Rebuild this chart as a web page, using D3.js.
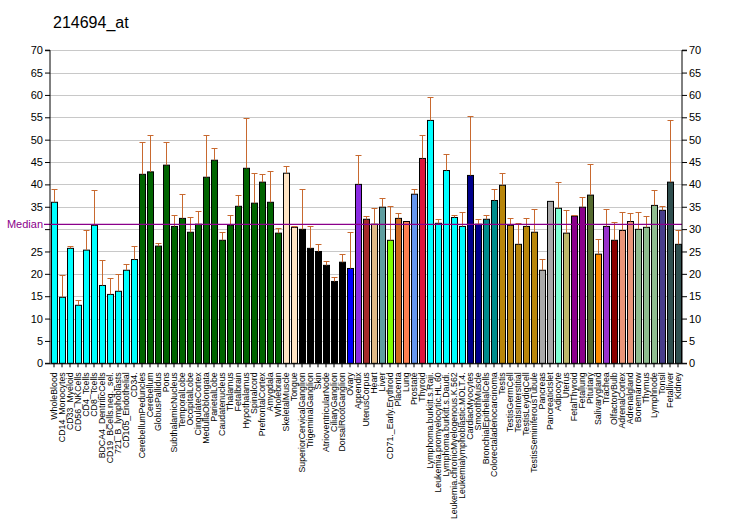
<!DOCTYPE html>
<html>
<head>
<meta charset="utf-8">
<script src="https://cdn.jsdelivr.net/npm/d3@7"></script>
<style>
  html, body { margin: 0; padding: 0; background: #fff; }
  svg { display: block; }
  text { font-family: Arial, "Liberation Sans", sans-serif; }
</style>
</head>
<body>
<svg id="chart" width="732" height="530"></svg>
<script>
const title = "214694_at";
const categories = ["WholeBlood","CD14_Monocytes","CD33_Myeloid","CD56_NKCells","CD4_Tcells","CD8_Tcells","BDCA4_DentriticCells","CD19_BCells.neg._sel.","721_B_lymphoblasts","CD105_Endothelial","CD34.","CerebellumPeduncles","Cerebellum","GlobusPallidus","Pons","SubthalamicNucleus","TemporalLobe","OccipitalLobe","CingulateCortex","MedullaOblongata","ParietalLobe","Caudatenucleus","Thalamus","Fetalbrain","Hypothalamus","Spinalcord","PrefrontalCortex","Amygdala","Wholebrain","SkeletalMuscle","Tongue","SuperiorCervicalGanglion","TrigeminalGanglion","Skin","AtrioventricularNode","CiliaryGanglion","DorsalRootGanglion","Ovary","Appendix","UterusCorpus","Heart","Liver","CD71._Early.Erythroid","Placenta","Lung","Prostate","Thyroid","Lymphoma.burkitt.s.Raji.","Leukemia.promyelocytic.HL.60","Lymphoma.burkitt.s.Daudi.","Leukemia.chronicMyelogenous.K.562","Leukemialymphoblastic.MOLT.4.","CardiacMyocytes","SmoothMuscle","BronchialEpithelialCells","Colorectaladenocarcinoma","Testis","TestisGermCell","TestisInterstitial","TestisLeydigCell","TestisSeminiferousTubule","Pancreas","PancreaticIslet","Adipocyte","Uterus","FetalThyroid","Fetallung","Pituitary","Salivarygland","Trachea","OlfactoryBulb","AdrenalCortex","Adrenalgland","Bonemarrow","Thymus","Lymphnode","Tonsil","Fetalliver","Kidney"];
const values = [36.0,14.75,25.7,12.97,25.3,30.85,17.4,15.4,16.1,20.8,23.2,42.25,42.8,26.2,44.3,30.6,32.4,29.3,31.1,41.6,45.4,27.5,30.85,35.1,43.6,35.8,40.5,36.0,29.1,42.5,30.4,29.95,25.7,25.0,21.9,18.3,22.6,21.2,40.0,32.2,31.1,34.9,27.5,32.4,31.7,37.8,45.8,54.3,31.3,43.1,32.6,30.6,42.0,31.1,32.2,36.4,39.8,30.85,26.6,30.6,29.3,20.8,36.2,34.65,29.1,32.9,34.9,37.6,24.4,30.6,27.5,29.7,31.7,29.95,30.4,35.3,34.2,40.5,26.6];
const errorTops = [38.9,19.7,26.2,14.1,29.7,38.7,23.2,19.0,19.9,22.1,26.2,49.4,51.0,26.8,49.4,33.1,37.8,32.6,34.0,51.0,48.2,29.3,33.1,37.6,54.8,42.5,42.25,43.1,30.2,44.0,30.6,38.9,30.6,26.6,22.8,19.4,24.4,29.3,46.5,32.9,34.65,36.9,35.1,33.5,31.7,38.9,51.0,59.5,32.2,46.9,33.1,33.75,55.4,32.2,33.1,38.9,42.5,32.4,31.3,32.4,34.4,23.25,36.2,40.5,34.2,33.1,37.1,44.5,27.7,34.4,31.7,33.75,33.5,33.75,32.9,38.7,35.1,54.5,29.7];
const median = 31.07;
const yTicks = [0,5,10,15,20,25,30,35,40,45,50,55,60,65,70];

// styles (kept apart from the data)
const barColors = [
  ...Array(11).fill("#00FFFF"),
  ...Array(18).fill("#006400"),
  "#FFE4C4","#FFE4C4",
  ...Array(6).fill("#000000"),
  "#0000FF","#8A2BE2","#A52A2A","#DEB887","#5F9EA0","#7FFF00","#D2691E","#FF7F50","#6495ED","#DC143C",
  ...Array(5).fill("#00FFFF"),
  "#00008B","#00008B","#008B8B","#008B8B",
  ...Array(5).fill("#B8860B"),
  "#A9A9A9","#A9A9A9","#7FFFD4","#BDB76B","#8B008B","#8B008B","#556B2F","#FF8C00","#9932CC","#8B0000",
  "#E9967A","#E9967A","#8FBC8F","#8FBC8F","#8FBC8F","#483D8B","#2F4F4F","#2F4F4F"
];

const svg = d3.select("#chart");
const plotLeft = 50, plotRight = 682, plotTop = 50.2, plotBottom = 363.3;

const x = d3.scaleBand().domain(categories).range([plotLeft, plotRight]).paddingInner(0.25).paddingOuter(0.125);
const y = d3.scaleLinear().domain([0, 70]).range([plotBottom, plotTop]);

// title
svg.append("text").attr("x", 53).attr("y", 28).attr("font-size", 16).attr("fill", "#000").text(title);

// gridlines
svg.append("g").selectAll("line").data(yTicks.filter(d => d > 0)).join("line")
  .attr("x1", plotLeft).attr("x2", plotRight)
  .attr("y1", d => Math.round(y(d)) + 0.5).attr("y2", d => Math.round(y(d)) + 0.5)
  .attr("stroke", "#C8C8C8").attr("stroke-width", 1);

// bars
svg.append("g").selectAll("rect").data(categories).join("rect")
  .attr("x", d => x(d) + 0.5)
  .attr("y", (d, i) => y(values[i]))
  .attr("width", x.bandwidth())
  .attr("height", (d, i) => y(0) - y(values[i]))
  .attr("fill", (d, i) => barColors[i])
  .attr("stroke", "#000").attr("stroke-width", 1);

// error bars
const eg = svg.append("g").attr("stroke", "#C8692F").attr("stroke-width", 1);
categories.forEach((c, i) => {
  if (errorTops[i] <= values[i] + 0.05) return;
  const cx = Math.round(x(c) + x.bandwidth() / 2) + 0.5;
  const ey = Math.round(y(errorTops[i])) + 0.5;
  eg.append("line").attr("x1", cx).attr("x2", cx).attr("y1", y(values[i])).attr("y2", ey);
  eg.append("line").attr("x1", cx - 3).attr("x2", cx + 3).attr("y1", ey).attr("y2", ey);
});

// median line
svg.append("line").attr("x1", 44).attr("x2", plotRight)
  .attr("y1", y(median)).attr("y2", y(median))
  .attr("stroke", "#8B008B").attr("stroke-width", 1.2);

// axes
const yl = svg.append("g").attr("transform", `translate(${plotLeft},0)`)
  .call(d3.axisLeft(y).tickValues(yTicks).tickSize(5).tickPadding(2)
    .tickFormat(d => d === 30 ? "" : d));
const yr = svg.append("g").attr("transform", `translate(${plotRight},0)`)
  .call(d3.axisRight(y).tickValues(yTicks).tickSize(5).tickPadding(2));
[yl, yr].forEach(g => {
  g.selectAll("text").attr("font-size", 11).attr("fill", "#000").attr("font-family", "Arial, 'Liberation Sans', sans-serif");
  g.selectAll("line").attr("stroke", "#000");
  g.select(".domain").attr("stroke", "#000");
});
yl.select(".domain").attr("d", `M-5,${y(70)}H0V${y(0)}H-5`);
yr.select(".domain").attr("d", `M5,${y(70)}H0V${y(0)}H5`);

svg.append("text").attr("x", 43).attr("y", y(median) + 4).attr("text-anchor", "end")
  .attr("font-size", 11).attr("fill", "#8B008B").text("Median");

const xa = svg.append("g").attr("transform", `translate(0,${plotBottom})`)
  .call(d3.axisBottom(x).tickSize(4).tickSizeOuter(0));
xa.select(".domain").attr("stroke", "#000").attr("d", `M${plotLeft},0.5H${plotRight}`);
xa.selectAll("line").attr("stroke", "#000");
xa.selectAll("text")
  .attr("font-size", 8.8).attr("fill", "#000")
  .attr("font-family", "Arial, 'Liberation Sans', sans-serif")
  .attr("text-anchor", "end")
  .attr("transform", "rotate(-90)")
  .attr("x", -9).attr("y", 0).attr("dy", "0.35em");
</script>
</body>
</html>
